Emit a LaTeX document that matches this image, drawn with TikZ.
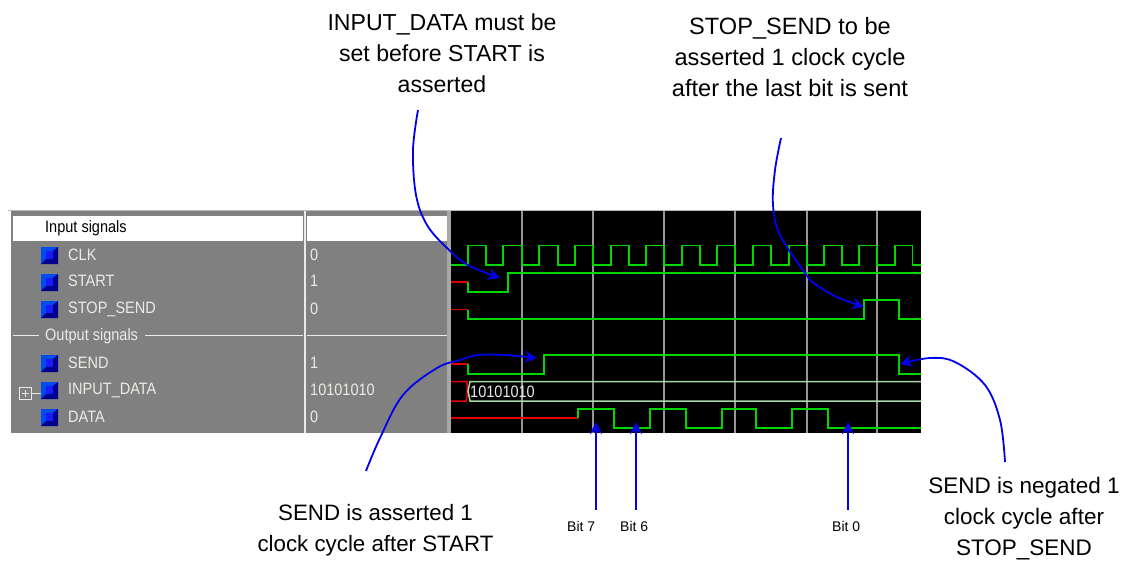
\documentclass[tikz,border=0pt]{standalone}
\usepackage{fontspec}
\setmainfont{Liberation Sans}
\newfontfamily\narrowf[FakeStretch=.88]{Liberation Sans}
\usetikzlibrary{arrows.meta}
\definecolor{panelgray}{RGB}{128,128,128}
\definecolor{wavegreen}{RGB}{0,215,0}
\definecolor{redsig}{RGB}{225,0,0}
\definecolor{busgreen}{RGB}{165,215,165}
\definecolor{gridgray}{RGB}{150,150,150}
\definecolor{annblue}{RGB}{0,0,235}
\definecolor{paneltext}{RGB}{235,235,230}
\tikzset{
  wave/.style={draw=wavegreen,line width=1.8pt},
  redwave/.style={draw=redsig,line width=1.5pt},
  buswave/.style={draw=busgreen,line width=1.5pt},
  gridline/.style={draw=gridgray,line width=1.2pt},
  note/.style={align=center,text=black,font=\fontsize{#1}{31}\selectfont,inner sep=0pt},
  note/.default=22.7,
  bitlabel/.style={text=black,font=\fontsize{14}{16}\selectfont,inner sep=0pt},
  sig/.style={anchor=west,text=paneltext,font=\narrowf\fontsize{16.5}{18}\selectfont,inner sep=0pt},
  callout/.style={draw=annblue,line width=1.8pt,-{Stealth[length=12pt,width=12pt]}},
}
\newcommand{\sigicon}[1]{%
  \fill[blue!85!black] (41,#1-8) rectangle (58,#1+9);
  \fill[black!10!blue!70!cyan] (41,#1-8) -- (58,#1-8) -- (53,#1-4) -- (46,#1-4) -- (46,#1+4) -- (41,#1+9) -- cycle;
  \fill[blue!55!black] (41,#1+9) -- (58,#1+9) -- (58,#1-8) -- (53,#1-4) -- (53,#1+4) -- (46,#1+4) -- cycle;
  \fill[blue!90!white] (46,#1-4) rectangle (53,#1+4);
}
\begin{document}
\begin{tikzpicture}[x=1pt,y=-1pt]
\useasboundingbox (0,0) rectangle (1123,560);
\fill[white] (0,0) rectangle (1123,560);
% left panel
\fill[panelgray] (11,210) rectangle (451,433);
\draw[gray!55,line width=1pt] (8,210.5) -- (921,210.5);
\fill[white] (13,216) rectangle (303,241);
\fill[white] (307,216) rectangle (447,241);
\fill[paneltext] (303.5,211) rectangle (306,433);
\draw[paneltext,line width=1pt] (13,335) -- (39,335);
\draw[paneltext,line width=1pt] (145,335) -- (303,335);
\draw[paneltext,line width=1pt] (307,335) -- (447,335);
\fill[panelgray!70!white] (447,211) rectangle (451,433);
% black panel
\fill[black] (451,211) rectangle (921,433);
\foreach \gx in {522,593,664,735,807,877}{\draw[gridline] (\gx,211) -- (\gx,433);}
% panel texts
\node[anchor=west,text=black,font=\narrowf\fontsize{16.5}{18}\selectfont,inner sep=0pt] (tin) at (45,228) {Input signals};
\node[sig] (tout) at (45,336) {Output signals};
\sigicon{255}\sigicon{282}\sigicon{309}\sigicon{363}\sigicon{390}\sigicon{417}
\node[sig] (nclk) at (68,255) {CLK};
\node[sig] (nstart) at (68,281) {START};
\node[sig] (nstop) at (68,309) {STOP\_SEND};
\node[sig] (nsend) at (68,363) {SEND};
\node[sig] (ninput) at (68,390) {INPUT\_DATA};
\node[sig] (ndata) at (68,417) {DATA};
\node[sig] (vclk) at (310,255) {0};
\node[sig] (vstart) at (310,281) {1};
\node[sig] (vstop) at (310,309) {0};
\node[sig] (vsend) at (310,363) {1};
\node[sig] (vinput) at (310,390) {10101010};
\node[sig] (vdata) at (310,417) {0};
% expander
\draw[paneltext,line width=.8pt] (19.5,387.5) rectangle (31.5,399.5);
\draw[paneltext,line width=.8pt] (22,393.5) -- (29,393.5) (25.5,390) -- (25.5,397) (31.5,393.5) -- (41,393.5);
% waves
\draw[wave] (451,265) -- (467.7,265) -- (467.7,245.5) -- (486,245.5) -- (486,265) -- (503.3,265) -- (503.3,245.5) -- (521.7,245.5) -- (521.7,265) -- (539.3,265) -- (539.3,245.5) -- (557.7,245.5) -- (557.7,265) -- (575,265) -- (575,245.5) -- (593,245.5) -- (593,265) -- (611,265) -- (611,245.5) -- (629,245.5) -- (629,265) -- (645.7,265) -- (645.7,245.5) -- (664,245.5) -- (664,265) -- (681.7,265) -- (681.7,245.5) -- (700,245.5) -- (700,265) -- (717,265) -- (717,245.5) -- (735,245.5) -- (735,265) -- (753,265) -- (753,245.5) -- (771,245.5) -- (771,265) -- (789,265) -- (789,245.5) -- (807,245.5) -- (807,265) -- (824,265) -- (824,245.5) -- (842,245.5) -- (842,265) -- (859,265) -- (859,245.5) -- (877,245.5) -- (877,265) -- (895,265) -- (895,245.5) -- (912.5,245.5) -- (912.5,265) -- (921,265);
\draw[redwave] (451,282) -- (467.7,282);
\draw[wave] (467.7,282) -- (467.7,292) -- (507.7,292) -- (507.7,272.7) -- (921,272.7);
\draw[redwave] (451,309.7) -- (467.7,309.7);
\draw[wave] (467.7,309.7) -- (467.7,319.3) -- (863.7,319.3) -- (863.7,300) -- (899.3,300) -- (899.3,319.3) -- (921,319.3);
\draw[redwave] (451,364) -- (467.7,364);
\draw[wave] (467.7,364) -- (467.7,373.7) -- (544,373.7) -- (544,354.7) -- (899.3,354.7) -- (899.3,373.7) -- (921,373.7);
\draw[redwave] (451,381.7) -- (467,381.7) -- (467,396) -- (466,401) -- (451,401);
\draw[buswave] (921,381.7) -- (470,381.7) -- (468,391) -- (470,401) -- (921,401);
\node[anchor=west,text=paneltext,font=\narrowf\fontsize{16.5}{18}\selectfont,inner sep=0pt] (busval) at (470,391.5) {10101010};
\draw[redwave] (451,418) -- (578,418);
\draw[wave] (578,418) -- (578,408.7) -- (614,408.7) -- (614,428) -- (649.7,428) -- (649.7,408.7) -- (685.7,408.7) -- (685.7,428) -- (721.7,428) -- (721.7,408.7) -- (756,408.7) -- (756,428) -- (791.7,428) -- (791.7,408.7) -- (827.7,408.7) -- (827.7,428) -- (921,428);
% notes
\node[note=23.1] (n1) at (442,53) {INPUT\_DATA must be\\set before START is\\asserted};
\node[note=23.6] (n2) at (790,57) {STOP\_SEND to be\\asserted 1 clock cycle\\after the last bit is sent};
\node[note=22.3] (n3) at (375.5,530) {SEND is asserted 1\\clock cycle after START};
\node[note=22.5] (n4) at (1024,519) {SEND is negated 1\\clock cycle after\\STOP\_SEND};
\node[bitlabel,anchor=west] (b7) at (567,526.5) {Bit 7};
\node[bitlabel,anchor=west] (b6) at (620,526.5) {Bit 6};
\node[bitlabel,anchor=west] (b0) at (832,526.5) {Bit 0};
% callouts
\draw[callout] plot[smooth,tension=.6] coordinates {(418,110) (413,150) (416,195) (427,225) (447,248) (468,265) (500,278)};
\draw[callout] plot[smooth,tension=.6] coordinates {(781,138) (775,170) (773,205) (780,235) (805,273) (815,284) (837,297) (864,307)};
\draw[callout] plot[smooth,tension=.6] coordinates {(366,471) (380,438) (403,395) (437,368) (460,360) (478,355) (505,355) (537,358)};
\draw[callout] plot[smooth,tension=.6] coordinates {(1005,462) (1000,420) (985,385) (955,362) (930,358) (900,364)};
\coordinate (c7) at (596,510);
\coordinate (c6) at (636,510);
\coordinate (c0) at (848,510);
\coordinate (t7) at (596,422);
\coordinate (t6) at (636,422);
\coordinate (t0) at (848,422);
\draw[callout] (c7) -- (t7);
\draw[callout] (c6) -- (t6);
\draw[callout] (c0) -- (t0);
\end{tikzpicture}
\end{document}
